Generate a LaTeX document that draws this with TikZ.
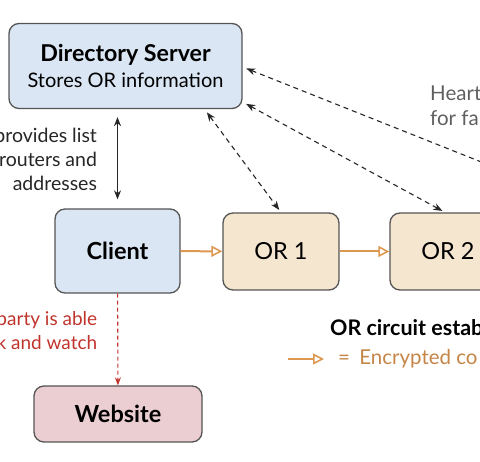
\documentclass[tikz,border=0pt]{standalone}
\usepackage{fontspec}
\setmainfont{Lato}
\usetikzlibrary{arrows.meta}
\definecolor{dirblue}{RGB}{218,230,243}
\definecolor{orbeige}{RGB}{245,230,208}
\definecolor{webpink}{RGB}{234,206,209}
\definecolor{boxgray}{RGB}{85,85,85}
\definecolor{leakred}{RGB}{192,52,44}
\definecolor{encorange}{RGB}{221,152,82}
\definecolor{enctext}{RGB}{196,133,70}
\definecolor{hbgray}{RGB}{95,95,95}

\begin{document}
\begin{tikzpicture}[x=1pt, y=-1pt,
    box/.style={rectangle, draw=boxgray, line width=1.3pt, rounded corners=10pt, text centered, inner sep=0pt, font=\fontsize{23.5}{28}\selectfont},
    arrow/.style={{Stealth[length=9pt,width=7pt]}-{Stealth[length=9pt,width=7pt]}, line width=1.1pt, black!85},
    hbarrow/.style={arrow, dash pattern=on 5pt off 4pt, shorten <=4pt, shorten >=3pt},
    encarrow/.style={-{Triangle[open,length=11pt,width=11pt,line width=1.6pt]}, line width=2pt, encorange},
    leakarrow/.style={-{Stealth[length=8pt,width=6pt]}, line width=1.1pt, leakred, dash pattern=on 4pt off 3pt},
    note/.style={inner sep=0pt, font=\fontsize{19.5}{24}\selectfont}
]
    \useasboundingbox (0,0) rectangle (480,462);
    \clip (0,0) rectangle (480,462);

    \node[box, fill=dirblue, minimum width=233pt, minimum height=85pt, align=center, font=\fontsize{20}{26}\selectfont] (dirsrv) at (125.5,66)
        {\textbf{\fontsize{23.2}{26}\selectfont Directory Server}\\Stores OR information};
    \node[box, fill=dirblue, minimum width=125pt, minimum height=84pt] (client) at (117.5,251) {\textbf{Client}};
    \node[box, fill=orbeige, minimum width=116pt, minimum height=77pt] (or1) at (281,251.5) {OR 1};
    \node[box, fill=orbeige, minimum width=116pt, minimum height=77pt] (or2) at (448,251.5) {OR 2};
    \node[box, fill=webpink, minimum width=168pt, minimum height=56pt] (website) at (118,414) {\textbf{Website}};
    \coordinate (or3) at (720,257);

    \draw[arrow, shorten <=8pt, shorten >=9pt] (dirsrv.south -| client) -- (client)
        node[note, midway, left=20pt, align=right, yshift=-1pt] {provides list\\routers and\\addresses};
    \draw[leakarrow] (client) -- (website)
        node[note, midway, left=20pt, align=right, yshift=9pt, text=leakred, font=\fontsize{19}{24}\selectfont] {party is able\\k and watch};

    \draw[encarrow] (client) -- (or1);
    \draw[encarrow] (or1) -- (or2);

    \draw[hbarrow] ([xshift=79pt]dirsrv.south) -- (or1.north);
    \draw[hbarrow] ([yshift=-36pt]dirsrv.east) -- ([xshift=-3pt]or2.north);
    \draw[hbarrow] ([yshift=-1pt]dirsrv.east) -- (or3);
    \node[note, anchor=west, align=left, text=hbgray, font=\fontsize{20.5}{25}\selectfont] (hbnote) at (430,106) {Heart\\for fa};

    % legend
    \node[note, anchor=west, font=\fontsize{21.5}{24}\selectfont\bfseries] (legtitle) at (330,328) {OR circuit estab};
    \coordinate (legs) at (288,359);
    \coordinate (lege) at (324,359);
    \draw[encarrow] (legs) -- (lege);
    \node[note, anchor=west, text=enctext, font=\fontsize{20.5}{24}\selectfont] (legtext) at (338,359) {=\hspace{0.45em}Encrypted co};
\end{tikzpicture}
\end{document}
